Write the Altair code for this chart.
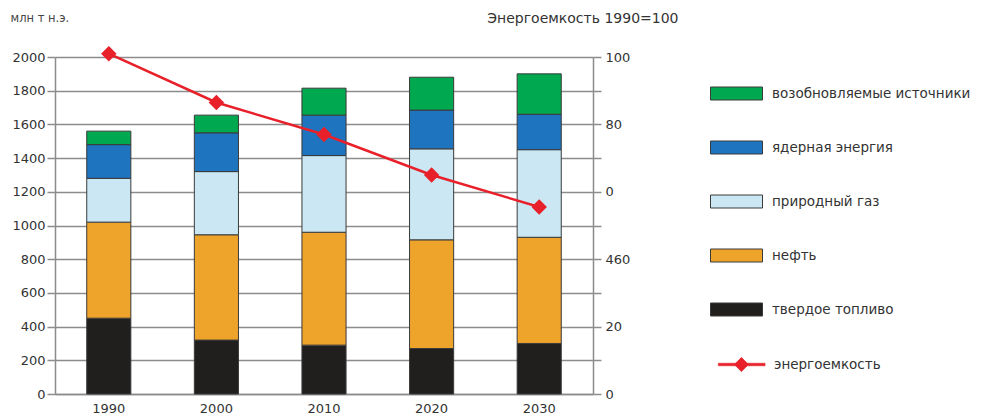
import altair as alt
import pandas as pd

# ---- data ----
years = ["1990", "2000", "2010", "2020", "2030"]
solid_fuel = [450, 320, 290, 270, 300]
oil = [570, 625, 670, 645, 630]
natural_gas = [260, 375, 455, 540, 520]
nuclear = [200, 230, 240, 230, 210]
renewables = [80, 105, 160, 195, 240]
intensity = [101, 86.5, 77, 65, 55.5]

series_names = ["возобновляемые источники", "ядерная энергия", "природный газ",
                "нефть", "твердое топливо"]
series_colors = ["#00a84f", "#1f74bf", "#cae7f3", "#eea32b", "#211f1d"]
line_name = "энергоемкость"
line_color = "#e8202a"

left_ticks = list(range(0, 2001, 200))
right_ticks = list(range(0, 101, 10))
right_labels = {100: "100", 80: "80", 60: "0", 40: "460", 20: "20", 0: "0"}

left_title = "млн т н.э."
right_title = "Энергоемкость 1990=100"

FONT = "DejaVu Sans"
TXT = "#333333"
GRID = "#8c8c8c"

# ---- tables ----
stack_values = {
    "твердое топливо": solid_fuel,
    "нефть": oil,
    "природный газ": natural_gas,
    "ядерная энергия": nuclear,
    "возобновляемые источники": renewables,
}
stack_order = ["твердое топливо", "нефть", "природный газ", "ядерная энергия",
               "возобновляемые источники"]
rows = []
for s in stack_order:
    for y, v in zip(years, stack_values[s]):
        rows.append({"year": y, "series": s, "value": v, "order": stack_order.index(s)})
bars_df = pd.DataFrame(rows)
line_df = pd.DataFrame({"year": years, "value": intensity, "name": line_name})

label_expr = " : ".join(
    [f"datum.value == {k} ? '{v}'" for k, v in right_labels.items()]) + " : ''"

rect_path = "M-1,-0.5H3V0.5H-1Z"
line_path = "M-0.4,-0.1H3.2V0.1H-0.4Z M1.38,-0.55L1.93,0L1.38,0.55L0.83,0Z"

x_enc = alt.X("year:N", sort=years,
              scale=alt.Scale(paddingInner=0.59, paddingOuter=0.295),
              axis=alt.Axis(title=None, labelAngle=0, ticks=False, domainColor=GRID,
                            domainWidth=1.5, labelPadding=8, labelFont=FONT,
                            labelFontSize=13, labelColor=TXT))

bars = alt.Chart(bars_df).mark_bar(stroke="#3a3a3a", strokeWidth=1).encode(
    x=x_enc,
    y=alt.Y("value:Q", stack="zero",
            scale=alt.Scale(domain=[0, 2000], nice=False),
            axis=alt.Axis(values=left_ticks, format="d", tickSize=8, tickColor=GRID,
                          tickWidth=1.5, grid=True, gridColor=GRID, gridWidth=1.5,
                          domainColor=GRID, domainWidth=1.5,
                          labelFont=FONT, labelFontSize=13, labelColor=TXT, labelPadding=2,
                          title=left_title, titleAngle=0, titleAlign="left",
                          titleBaseline="middle", titleX=-45, titleY=-39,
                          titleFont=FONT, titleFontSize=11.5, titleFontWeight="normal",
                          titleColor="#444444")),
    fill=alt.Fill("series:N", scale=alt.Scale(domain=series_names, range=series_colors),
                  legend=alt.Legend(title=None, orient="none", legendX=655, legendY=23,
                                    symbolType=rect_path, symbolSize=676, rowPadding=32,
                                    labelOffset=35, labelFont=FONT, labelFontSize=13.5,
                                    labelColor=TXT, padding=0, labelLimit=400,
                                    symbolStrokeColor="#3a3a3a", symbolStrokeWidth=1)),
    order=alt.Order("order:Q"),
)

base = alt.Chart(line_df).encode(
    x=alt.X("year:N", sort=years),
    y=alt.Y("value:Q", scale=alt.Scale(domain=[0, 100], nice=False),
            axis=alt.Axis(orient="right", values=right_ticks, labelExpr=label_expr,
                          tickSize=8, tickColor=GRID, tickWidth=1.5, grid=False,
                          domainColor=GRID, domainWidth=1.5,
                          labelFont=FONT, labelFontSize=13, labelColor=TXT, labelPadding=4,
                          title=right_title, titleAngle=0, titleAlign="right",
                          titleBaseline="middle", titleX=85, titleY=-39,
                          titleFont=FONT, titleFontSize=14, titleFontWeight="normal",
                          titleColor=TXT)),
)
line = base.mark_line(strokeWidth=2.5).encode(
    stroke=alt.Stroke("name:N", scale=alt.Scale(domain=[line_name], range=[line_color]),
                      legend=alt.Legend(title=None, orient="none", legendX=655, legendY=294,
                                        symbolType=line_path, symbolSize=676,
                                        labelOffset=37, labelFont=FONT, labelFontSize=13.5,
                                        labelColor=TXT, padding=0,
                                        symbolFillColor=line_color,
                                        symbolStrokeColor=line_color, symbolStrokeWidth=0.5))
)
points = base.mark_point(shape="diamond", filled=True, size=240, opacity=1, color=line_color)

chart = alt.layer(bars, alt.layer(line, points)).resolve_scale(
    y="independent"
).properties(
    width=538, height=337,
    autosize=alt.AutoSizeParams(type="none"),
    padding={"left": 47, "top": 49, "right": 383, "bottom": 22},
).configure_view(stroke=None).configure(background="white")

chart.save("out.html", embed_options={"renderer": "svg", "actions": False})
